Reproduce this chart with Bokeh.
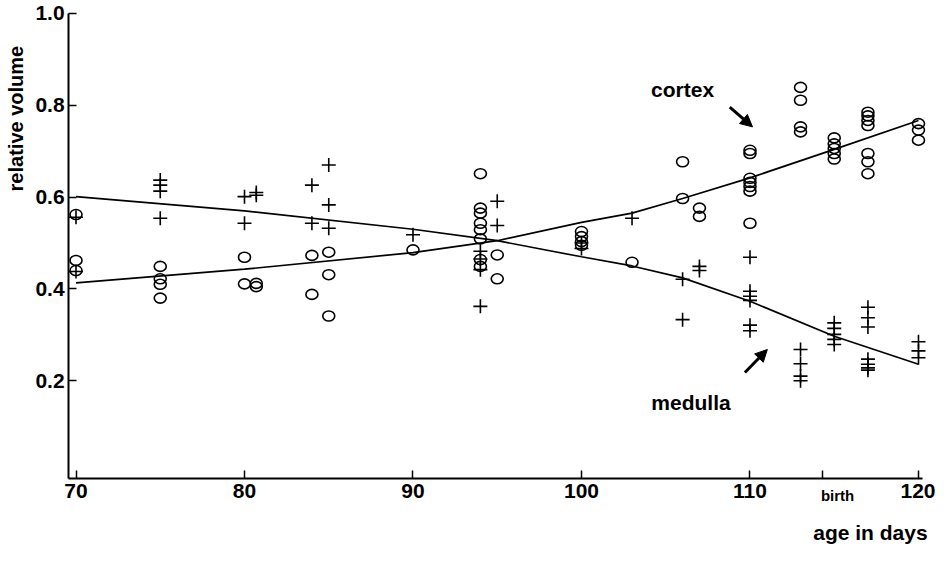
from bokeh.plotting import figure
from bokeh.models import (Range1d, FixedTicker, PrintfTickFormatter, Label, Arrow,
                          NormalHead, ColumnDataSource)
from bokeh.embed import file_html
from bokeh.resources import INLINE
import math

# ---------------- data ----------------
cortex_age = ([70] * 3 + [75] * 4 + [80] * 2 + [80.7] * 2 + [84] * 2 + [85] * 3 + [90]
              + [94] * 8 + [95] * 2 + [100] * 4 + [103] + [106] * 2 + [107] * 2
              + [110] * 7 + [113] * 4 + [115] * 5 + [117] * 7 + [120] * 3)
cortex_vol = [0.562, 0.462, 0.440,
              0.449, 0.422, 0.410, 0.380,
              0.469, 0.411,
              0.412, 0.405,
              0.473, 0.388,
              0.480, 0.431, 0.341,
              0.485,
              0.651, 0.576, 0.565, 0.543, 0.529, 0.509, 0.464, 0.449,
              0.474, 0.422,
              0.525, 0.514, 0.503, 0.495,
              0.458,
              0.677, 0.597,
              0.576, 0.558,
              0.702, 0.695, 0.641, 0.632, 0.623, 0.613, 0.543,
              0.839, 0.811, 0.753, 0.742,
              0.729, 0.716, 0.706, 0.695, 0.683,
              0.785, 0.777, 0.767, 0.756, 0.695, 0.677, 0.651,
              0.760, 0.746, 0.724]

medulla_age = ([70] * 2 + [75] * 4 + [80] * 2 + [80.7] * 2 + [84] * 2 + [85] * 3 + [90]
               + [94] * 4 + [95] * 2 + [100] * 2 + [103] + [106] * 2 + [107] * 2
               + [110] * 6 + [113] * 4 + [115] * 5 + [117] * 7 + [120] * 3)
medulla_vol = [0.556, 0.438,
               0.637, 0.626, 0.613, 0.554,
               0.601, 0.543,
               0.610, 0.604,
               0.626, 0.543,
               0.670, 0.583, 0.532,
               0.518,
               0.482, 0.465, 0.442, 0.362,
               0.591, 0.538,
               0.500, 0.488,
               0.554,
               0.421, 0.333,
               0.449, 0.440,
               0.469, 0.395, 0.384, 0.375, 0.321, 0.309,
               0.268, 0.237, 0.210, 0.200,
               0.326, 0.314, 0.301, 0.290, 0.279,
               0.360, 0.337, 0.317, 0.247, 0.236, 0.228, 0.223,
               0.285, 0.265, 0.250]

fit_age = [70, 80, 90, 95, 100, 103, 106, 110, 115, 120]
cortex_fit = [0.413, 0.443, 0.479, 0.505, 0.545, 0.565, 0.597, 0.642, 0.704, 0.767]
medulla_fit = [0.601, 0.570, 0.530, 0.505, 0.470, 0.450, 0.424, 0.373, 0.297, 0.236]

x_ticks = [70, 80, 90, 100, 110, 120]
birth_tick = [114.3]
y_ticks = [0.2, 0.4, 0.6, 0.8, 1.0]

FONT = "Liberation Sans"
X0, X1 = 69.56, 120.25     # extent of the drawn x axis
Y0, Y1 = -0.013, 1.0       # extent of the drawn y axis

# ---------------- figure ----------------
p = figure(width=935, height=545, output_backend="svg", toolbar_location=None,
           x_range=Range1d(65.519, 121.01), y_range=Range1d(-0.159, 1.0283),
           min_border_left=0, min_border_right=0, min_border_top=0,
           min_border_bottom=0)
p.outline_line_color = None
p.grid.visible = False
p.background_fill_color = "white"
p.border_fill_color = "white"

cs = ColumnDataSource(dict(x=cortex_age, y=cortex_vol))
ms = ColumnDataSource(dict(x=medulla_age, y=medulla_vol))

p.line(fit_age, cortex_fit, line_color="black", line_width=1.7)
p.line(fit_age, medulla_fit, line_color="black", line_width=1.7)

p.ellipse(x="x", y="y", width=12, height=10, width_units="screen",
          height_units="screen", source=cs, fill_color=None,
          line_color="black", line_width=1.6)
p.scatter(x="x", y="y", marker="cross", size=14, source=ms,
          line_color="black", line_width=1.6)

# axes, drawn at fixed data positions
for ax in (p.xaxis[0], p.yaxis[0]):
    ax.axis_line_width = 2
    ax.axis_line_color = "black"
    ax.major_tick_in = 8
    ax.major_tick_out = 0
    ax.major_tick_line_width = 1.5
    ax.major_tick_line_color = "black"
    ax.major_label_text_font = FONT
    ax.major_label_text_font_style = "bold"
    ax.major_label_text_font_size = "21px"
    ax.major_label_text_color = "black"

p.xaxis.fixed_location = Y0
p.xaxis.bounds = (X0, X1)
p.xaxis.ticker = FixedTicker(ticks=x_ticks, minor_ticks=birth_tick)
p.xaxis.minor_tick_in = 8
p.xaxis.minor_tick_out = 0
p.xaxis.minor_tick_line_color = "black"
p.xaxis.minor_tick_line_width = 1.5
p.xaxis.major_label_standoff = 6

p.yaxis.fixed_location = X0
p.yaxis.bounds = (Y0, Y1)
p.yaxis.ticker = FixedTicker(ticks=y_ticks, minor_ticks=[])
p.yaxis.minor_tick_line_color = None
p.yaxis.formatter = PrintfTickFormatter(format="%.1f")
p.yaxis.major_label_standoff = 4

# text annotations
def lab(x, y, text, size, align="center", angle=0.0):
    p.add_layout(Label(x=x, y=y, text=text, angle=angle, text_align=align,
                       text_baseline="middle", text_font=FONT,
                       text_font_style="bold", text_font_size=size,
                       text_color="black"))

lab(66.41, 0.771, "relative volume", "20px", angle=math.pi / 2)
lab(120.89, -0.130, "age in  days", "21px", align="right")
lab(115.2, -0.050, "birth", "15px")
lab(106.0, 0.835, "cortex", "21px")
lab(106.5, 0.152, "medulla", "21px")

# arrows
p.add_layout(Arrow(end=NormalHead(size=12, fill_color="black", line_color="black"),
                   x_start=108.8, y_start=0.796, x_end=110.15, y_end=0.753,
                   line_width=3, line_color="black"))
p.add_layout(Arrow(end=NormalHead(size=12, fill_color="black", line_color="black"),
                   x_start=109.7, y_start=0.218, x_end=111.03, y_end=0.268,
                   line_width=3, line_color="black"))

open("out.html", "w").write(file_html(p, INLINE))
